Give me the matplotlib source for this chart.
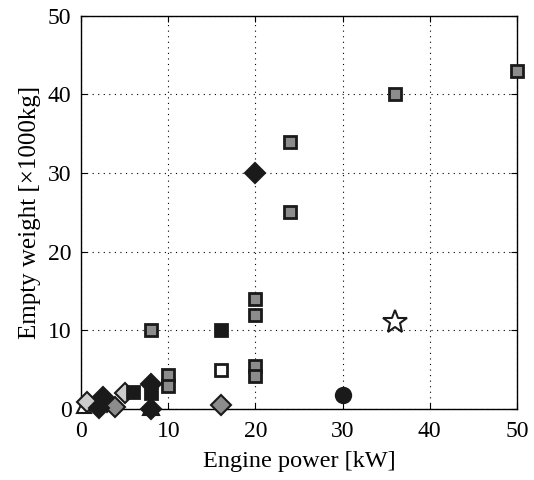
import matplotlib
matplotlib.use("Agg")
import matplotlib.pyplot as plt

plt.rcParams["font.family"] = ["Liberation Serif", "DejaVu Serif"]

# grey squares
sq_grey_x = [8, 10, 10, 20, 20, 20, 20, 24, 24, 36, 50]
sq_grey_y = [10, 4.3, 2.9, 14, 12, 5.5, 4.2, 34, 25, 40, 43]
# black squares
sq_black_x = [6, 8, 16]
sq_black_y = [2.1, 2.0, 10]
# open squares
sq_open_x = [16]
sq_open_y = [5.0]
# black diamonds
dm_black_x = [2, 2.5, 8, 8, 20]
dm_black_y = [0.1, 1.5, 3.2, 0.0, 30]
# light grey diamonds
dm_light_x = [0.7, 3, 5]
dm_light_y = [0.9, 0.9, 2.0]
# mid grey diamonds
dm_grey_x = [3.9, 16]
dm_grey_y = [0.3, 0.5]
# black triangles
tr_black_x = [8]
tr_black_y = [0.3]
# open triangles
tr_open_x = [0.3]
tr_open_y = [0.4]
# black circle
ci_x = [30]
ci_y = [1.8]
# open star
st_x = [36]
st_y = [11]

fig = plt.figure(figsize=(5.34, 4.8), dpi=100)
ax = fig.add_axes([0.152, 0.148, 0.816, 0.819])

kw = dict(linestyle="none", clip_on=False, markeredgecolor="#1a1a1a", zorder=3)
ax.plot(tr_open_x, tr_open_y, marker="^", ms=10, mfc="white", mew=1.5, **kw)
ax.plot(dm_light_x, dm_light_y, marker="D", ms=10, mfc="#cccccc", mew=1.5, **kw)
ax.plot(dm_grey_x, dm_grey_y, marker="D", ms=10, mfc="#8c8c8c", mew=1.5, **kw)
ax.plot(dm_black_x, dm_black_y, marker="D", ms=10, mfc="#1a1a1a", mew=1.5, **kw)
ax.plot(tr_black_x, tr_black_y, marker="^", ms=11, mfc="#1a1a1a", mew=1.5, **kw)
ax.plot(sq_grey_x, sq_grey_y, marker="s", ms=9, mfc="#8c8c8c", mew=2, **kw)
ax.plot(sq_black_x, sq_black_y, marker="s", ms=9, mfc="#1a1a1a", mew=2, **kw)
ax.plot(sq_open_x, sq_open_y, marker="s", ms=9, mfc="white", mew=2, **kw)
ax.plot(ci_x, ci_y, marker="o", ms=11, mfc="#1a1a1a", mew=1.5, **kw)
ax.plot(st_x, st_y, marker="*", ms=18, mfc="white", mew=1.5, **kw)

ax.set_xlim(0, 50)
ax.set_ylim(0, 50)
ax.set_xticks([0, 10, 20, 30, 40, 50])
ax.set_yticks([0, 10, 20, 30, 40, 50])
ax.grid(True, linestyle=(0, (1, 4)), color="black", linewidth=0.8)
ax.tick_params(direction="in", top=True, right=True, labelsize=17, length=4)
ax.tick_params(axis="x", pad=9)
ax.tick_params(axis="y", pad=7)
for s in ax.spines.values():
    s.set_linewidth(1.0)
ax.set_xlabel("Engine power [kW]", fontsize=17.5, labelpad=6)
ax.set_ylabel("Empty weight [\u00d71000kg]", fontsize=18, labelpad=5)

fig.savefig("out.png", dpi=100)
